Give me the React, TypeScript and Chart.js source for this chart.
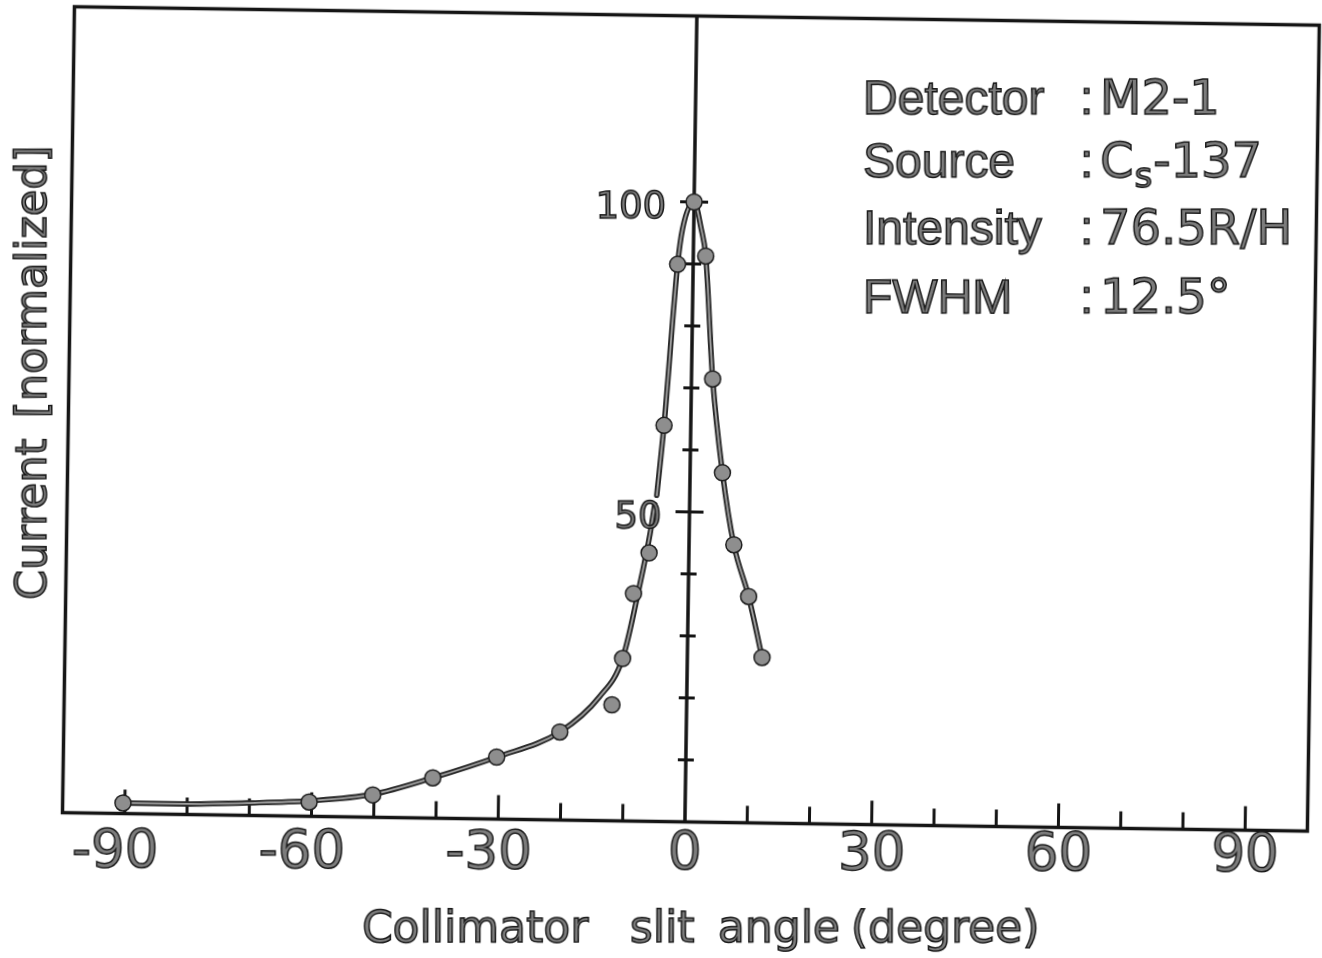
import React, { useEffect, useRef } from 'react';
import { Chart, registerables } from 'chart.js';

Chart.register(...registerables);

// ---- data ----
const pointAngles = [-90.3, -60.4, -50.2, -40.6, -30.4, -20.3, -12.0, -10.4, -8.8, -6.4, -4.3, -2.5, 0, 2.0, 3.4, 5.2, 7.2, 9.7, 12.0];
const pointCurrents = [1.7, 2.3, 3.6, 6.5, 10.0, 14.2, 18.7, 26.2, 36.7, 43.3, 63.9, 89.9, 100, 91.3, 71.5, 56.4, 44.8, 36.5, 26.7];

// hand-drawn fit, left tail
const tailAngles = [-90.3, -80.2, -70.4, -60.4, -50.2, -40.6, -30.4, -20.3, -14.0, -10.4, -7.8, -6.3, -5.6];
const tailCurrents = [1.7, 1.7, 2.0, 2.5, 3.7, 6.5, 10.0, 14.2, 20.0, 26.2, 38.2, 46.3, 51.1];

// hand-drawn fit, peak
const peakAngles = [-5.3, -4.3, -2.5, -1.8, 0, 1.2, 2.0, 3.4, 5.2, 7.2, 9.7, 12.0];
const peakCurrents = [52.6, 63.9, 89.9, 95.6, 100, 95.7, 91.3, 71.5, 56.4, 44.8, 36.5, 26.7];

const xMin = -100;
const xMax = 100;
const yMin = 0;
const yMax = 130;

const xTickValues = [-90, -80, -70, -60, -50, -40, -30, -20, -10, 10, 20, 30, 40, 50, 60, 70, 80, 90];
const xTickLabels = [-90, -60, -30, 0, 30, 60, 90];
const yTickValues = [10, 20, 30, 40, 50, 60, 70, 80, 90, 100];
const yTickLabels = [50, 100];

const infoKeys = ['Detector', 'Source', 'Intensity', 'FWHM'];
const infoValues = ['M2-1', 'Cs-137', '76.5R/H', '12.5°'];

const xTitleWords = ['Collimator', 'slit', 'angle', '(degree)'];
const yTitleWords = ['Current', '[normalized]'];

const ROT_DEG = 0.85;
const ROT = (ROT_DEG * Math.PI) / 180;

const INK = '#151515';
const TEXT_FILL = '#7c7c7c';
const TEXT_EDGE = '#1a1a1a';

function inkText(ctx: CanvasRenderingContext2D, t: string, x: number, y: number) {
  ctx.fillText(t, x, y);
  ctx.strokeText(t, x, y);
}

const framePlugin = {
  id: 'frame',
  beforeDatasetsDraw(chart: any) {
    const { ctx, chartArea: a, scales } = chart;
    const xs = scales.x;
    const ys = scales.y;
    ctx.save();
    ctx.strokeStyle = INK;
    ctx.lineWidth = 3.5;
    ctx.strokeRect(a.left, a.top, a.right - a.left, a.bottom - a.top);
    const x0 = xs.getPixelForValue(0);
    ctx.beginPath();
    ctx.moveTo(x0, a.top);
    ctx.lineTo(x0, a.bottom);
    ctx.stroke();
    ctx.lineWidth = 3;
    yTickValues.forEach((v) => {
      const py = ys.getPixelForValue(v);
      const h = v % 50 === 0 ? 14 : 8;
      ctx.beginPath();
      ctx.moveTo(x0 - h, py);
      ctx.lineTo(x0 + h, py);
      ctx.stroke();
    });
    xTickValues.forEach((v) => {
      const px = xs.getPixelForValue(v);
      const len = v % 30 === 0 ? 24 : 17;
      ctx.beginPath();
      ctx.moveTo(px, a.bottom);
      ctx.lineTo(px, a.bottom - len);
      ctx.stroke();
    });
    ctx.restore();
  },
  afterDraw(chart: any) {
    const { ctx, chartArea: a, scales } = chart;
    const xs = scales.x;
    const ys = scales.y;
    const cx = chart.width / 2;
    const cy = chart.height / 2;
    const c = Math.cos(ROT);
    const s = Math.sin(ROT);
    // canvas point -> where it appears on screen after the page rotation
    const toScreen = (x: number, y: number) => {
      const dx = x - cx;
      const dy = y - cy;
      return [cx + dx * c - dy * s, cy + dx * s + dy * c];
    };
    const x0 = xs.getPixelForValue(0);

    ctx.save();
    // text is kept level on screen
    ctx.translate(cx, cy);
    ctx.rotate(-ROT);
    ctx.translate(-cx, -cy);
    ctx.fillStyle = TEXT_FILL;
    ctx.strokeStyle = TEXT_EDGE;
    ctx.lineWidth = 1.5;
    ctx.textBaseline = 'alphabetic';

    // x tick labels
    ctx.font = '53px "DejaVu Sans"';
    ctx.textAlign = 'right';
    xTickLabels.forEach((v) => {
      const [sx] = toScreen(xs.getPixelForValue(v), a.bottom);
      const w = ctx.measureText(String(Math.abs(v))).width;
      inkText(ctx, String(v), sx + w / 2, 867 + (sx - 114) * 0.0035);
    });

    // y tick labels (next to the central axis)
    ctx.font = '37px "DejaVu Sans"';
    ctx.textAlign = 'right';
    yTickLabels.forEach((v) => {
      const [sx, sy] = toScreen(x0, ys.getPixelForValue(v));
      inkText(ctx, String(v), sx - 28, sy + 16);
    });

    // info block
    ctx.textAlign = 'left';
    const keyX = 863;
    const colonX = 1080;
    const valX = 1100;
    const lineY = [114, 177, 244, 313];
    infoKeys.forEach((k, i) => {
      const by = lineY[i];
      ctx.font = '48px "Liberation Sans"';
      inkText(ctx, k, keyX, by);
      inkText(ctx, ':', colonX, by);
      const val = infoValues[i];
      ctx.font = '48px "DejaVu Sans"';
      if (val.startsWith('Cs')) {
        let px = valX;
        inkText(ctx, 'C', px, by);
        px += ctx.measureText('C').width + 1;
        ctx.font = '34px "DejaVu Sans"';
        inkText(ctx, 's', px, by + 10);
        px += ctx.measureText('s').width + 1;
        ctx.font = '48px "DejaVu Sans"';
        inkText(ctx, val.slice(2), px, by);
      } else {
        inkText(ctx, val, valX, by);
      }
    });

    // x title
    ctx.font = '44px "DejaVu Sans"';
    ctx.textAlign = 'left';
    const wordX = [362, 630, 718, 851];
    xTitleWords.forEach((w, i) => inkText(ctx, w, wordX[i], 942));

    // y title
    ctx.save();
    ctx.translate(46, 600);
    ctx.rotate(-Math.PI / 2);
    ctx.font = '43px "DejaVu Sans"';
    ctx.textAlign = 'left';
    inkText(ctx, yTitleWords[0], 0, 0);
    inkText(ctx, yTitleWords[1], 182, 0);
    ctx.restore();

    ctx.restore();
  },
};

const toXY = (xs: number[], ys: number[]) => xs.map((x, i) => ({ x, y: ys[i] }));

export default function App() {
  const ref = useRef<HTMLCanvasElement | null>(null);
  useEffect(() => {
    if (!ref.current) return;
    const lineCommon = {
      type: 'line' as const,
      pointRadius: 0,
      fill: false,
      cubicInterpolationMode: 'monotone' as const,
      borderCapStyle: 'round' as const,
    };
    const chart = new Chart(ref.current, {
      type: 'scatter',
      data: {
        datasets: [
          { ...lineCommon, data: toXY(tailAngles, tailCurrents), borderColor: '#2a2a2a', borderWidth: 5.5, order: 4 },
          { ...lineCommon, data: toXY(tailAngles, tailCurrents), borderColor: '#a0a0a0', borderWidth: 1.8, order: 3 },
          { ...lineCommon, data: toXY(peakAngles, peakCurrents), borderColor: '#2a2a2a', borderWidth: 5.5, order: 4 },
          { ...lineCommon, data: toXY(peakAngles, peakCurrents), borderColor: '#a0a0a0', borderWidth: 1.8, order: 3 },
          {
            type: 'scatter' as const,
            data: toXY(pointAngles, pointCurrents),
            pointRadius: 8,
            pointBackgroundColor: '#8e8e8e',
            pointBorderColor: '#1e1e1e',
            pointBorderWidth: 1.5,
            order: 0,
          },
        ] as any,
      },
      options: {
        animation: false,
        responsive: false,
        devicePixelRatio: 1,
        layout: { padding: { left: 67.5, top: 15.5, right: 9, bottom: 136.5 } },
        scales: {
          x: { type: 'linear', min: xMin, max: xMax, display: false },
          y: { type: 'linear', min: yMin, max: yMax, display: false },
        },
        plugins: { legend: { display: false }, tooltip: { enabled: false } },
      } as any,
      plugins: [framePlugin],
    });
    return () => chart.destroy();
  }, []);
  return (
    <div
      style={{
        position: 'fixed',
        left: 0,
        top: 0,
        width: 1322,
        height: 958,
        background: '#fff',
        transform: `rotate(${ROT_DEG}deg)`,
        transformOrigin: '661px 479px',
      }}
    >
      <canvas ref={ref} width={1322} height={958} style={{ display: 'block', width: 1322, height: 958 }} />
    </div>
  );
}
